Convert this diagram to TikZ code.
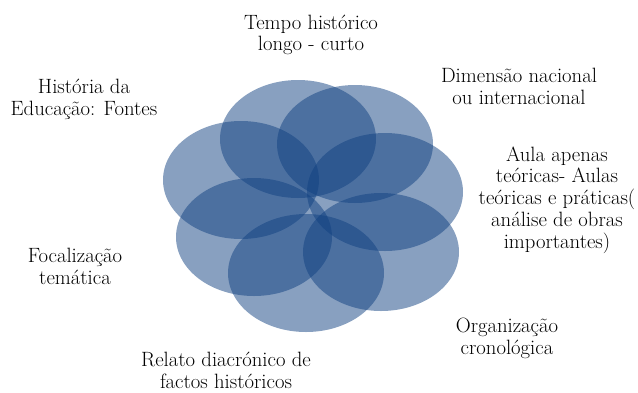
\documentclass[tikz,border=0pt]{standalone}
\usepackage{tikz}
\usetikzlibrary{positioning}
\definecolor{petalblue}{HTML}{114181}

\begin{document}
\begin{tikzpicture}[x=1pt,y=-1pt,
  petal/.style={fill=petalblue,fill opacity=0.5},
  rotulo/.style={font=\fontsize{20.7}{21.8}\selectfont,align=center,inner sep=0pt}]
     \useasboundingbox (0,0) rectangle (638,392);
     %petalas
     \foreach \cx/\cy in {298/139,355/144,385/192,381/252,306/273,254/237,241/180}  {
     	\fill[petal] (\cx,\cy) ellipse [x radius=78, y radius=59];
     }
     %textos
     \node (tempo) at (311,35) [rotulo]{Tempo histórico\\longo - curto};
     \node (dimensao) at (519,86) [rotulo]{Dimensão nacional\\ou internacional};
     \node (aula) at (557,200) [rotulo]{Aula apenas\\teóricas- Aulas\\teóricas e práticas(\\análise de obras\\importantes)};
     \node (organizacao) at (507,338) [rotulo]{Organização\\cronológica};
     \node (relato) at (226,370) [rotulo]{Relato diacrónico de\\factos históricos};
     \node (focalizacao) at (75,266) [rotulo]{Focalização\\temática};
     \node (historia) at (84,99) [rotulo]{História da\\Educação: Fontes};
     
\end{tikzpicture}
\end{document}
